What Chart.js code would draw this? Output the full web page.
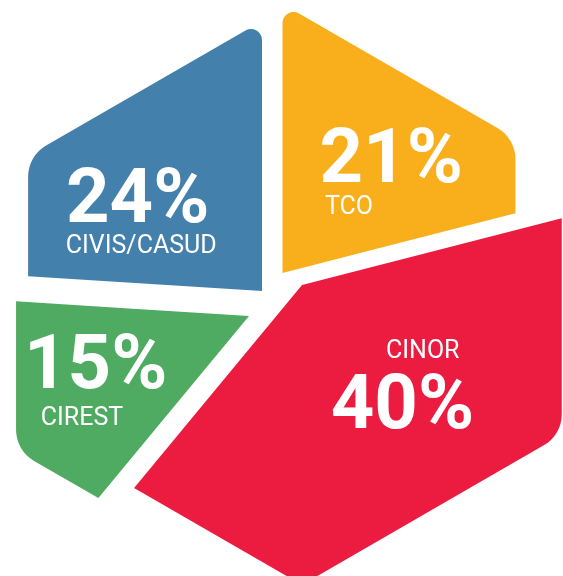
<!DOCTYPE html>
<html>
<head>
<meta charset="utf-8">
<script src="https://cdn.jsdelivr.net/npm/chart.js@4.4.1/dist/chart.umd.min.js"></script>
<style>
  html, body { margin: 0; padding: 0; background: #fff; }
  .wrap { width: 563px; height: 576px; position: relative; }
</style>
</head>
<body>
<div class="wrap"><canvas id="chart"></canvas></div>
<script>
const labels = ["TCO", "CINOR", "CIREST", "CIVIS/CASUD"];
const shares = [21, 40, 15, 24];
const colors = ["#F9AE1B", "#EC1B40", "#4FAA62", "#4381AC"];

// each piece is pulled away from the middle by hand, CINOR is drawn a bit bigger
const pull = [[10.5, -17], [30, -5], [-23, 26], [-10, 1]];
const grow = [1, 1.115, 1, 1.004];

// text spots (left edge of the ink, baseline), measured from the inner tip of each piece
const bigPos = [[39, -91], [30.7, 143], [-219, 72.3], [-194, -69]];
const smallPos = [[42.5, -59], [85, 73.3], [-207.3, 109], [-195.3, -38.3]];

const cornerR = 36;
const tipR = 11;

function edgePoint(cx, cy, R, a) {
    const step = Math.PI / 3;
    const n = Math.round(a / step) * step;
    const d = R * Math.cos(Math.PI / 6) / Math.cos(a - n);
    return { x: cx + d * Math.cos(a), y: cy + d * Math.sin(a) };
}

function onVertex(a) {
    const step = Math.PI / 3;
    const k = (a + Math.PI / 2) / step;
    return Math.abs(k - Math.round(k)) < 0.01;
}

function roundPoly(ctx, pts) {
    const n = pts.length;
    const last = pts[n - 1], first = pts[0];
    ctx.beginPath();
    ctx.moveTo((last.x + first.x) / 2, (last.y + first.y) / 2);
    for (let i = 0; i < n; i++) {
        const a = pts[i], b = pts[(i + 1) % n];
        ctx.arcTo(a.x, a.y, b.x, b.y, a.r);
    }
    ctx.closePath();
}

function piecePath(ctx, cx, cy, R, a0, a1) {
    const pts = [{ x: cx, y: cy, r: 0 }];
    const s = edgePoint(cx, cy, R, a0);
    s.r = onVertex(a0) ? tipR : 0;
    pts.push(s);
    for (let k = 0; k <= 6; k++) {
        const v = -Math.PI / 2 + k * Math.PI / 3;
        if (v > a0 + 0.01 && v < a1 - 0.01) {
            pts.push({ x: cx + R * Math.cos(v), y: cy + R * Math.sin(v), r: cornerR });
        }
    }
    const e = edgePoint(cx, cy, R, a1);
    e.r = onVertex(a1) ? tipR : 0;
    pts.push(e);
    roundPoly(ctx, pts);
}

function writeLeft(ctx, txt, inkX, baseY) {
    const m = ctx.measureText(txt);
    ctx.fillText(txt, inkX + m.actualBoundingBoxLeft, baseY);
}

const hexPieces = {
    id: "hexPieces",
    beforeDatasetDraw(chart, args) {
        const ctx = chart.ctx;
        const arcs = chart.getDatasetMeta(args.index).data;
        const ds = chart.data.datasets[args.index];

        ctx.save();
        arcs.forEach((arc, i) => {
            const p = arc.getProps(["x", "y", "startAngle", "endAngle", "outerRadius"], true);
            const cx = p.x + pull[i][0];
            const cy = p.y + pull[i][1];
            piecePath(ctx, cx, cy, p.outerRadius * grow[i], p.startAngle, p.endAngle);
            ctx.fillStyle = ds.backgroundColor[i];
            ctx.fill();
        });

        ctx.fillStyle = "#ffffff";
        ctx.textAlign = "left";
        ctx.textBaseline = "alphabetic";
        arcs.forEach((arc, i) => {
            const cx = arc.x + pull[i][0];
            const cy = arc.y + pull[i][1];
            ctx.font = "bold 76px Roboto";
            writeLeft(ctx, ds.data[i] + "%", cx + bigPos[i][0], cy + bigPos[i][1]);
            ctx.font = "25px Roboto";
            writeLeft(ctx, chart.data.labels[i], cx + smallPos[i][0], cy + smallPos[i][1]);
        });
        ctx.restore();
        return false;
    }
};

new Chart(document.getElementById("chart"), {
    type: "pie",
    data: {
        labels: labels,
        datasets: [{
            data: shares,
            backgroundColor: colors,
            borderWidth: 0
        }]
    },
    options: {
        responsive: true,
        maintainAspectRatio: false,
        animation: false,
        radius: 269,
        layout: { padding: { left: 0, right: 19, top: 4, bottom: 0 } },
        plugins: {
            legend: { display: false },
            tooltip: { enabled: false }
        }
    },
    plugins: [hexPieces]
});
</script>
</body>
</html>
